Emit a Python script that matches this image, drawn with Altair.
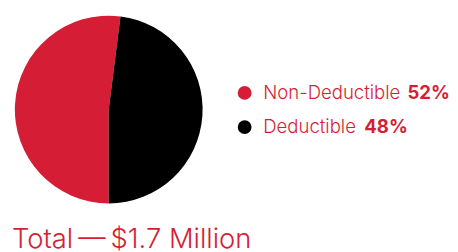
import altair as alt
import pandas as pd

categories = ["Non-Deductible", "Deductible"]
shares = [52, 48]
percent_labels = ["52%", "48%"]
colors = ["#D51E35", "#000000"]
title_text = "Total\u2009\u2014\u2009$1.7 Million"

RED = "#D51E35"
LABEL_SIZE = 19
FONT = "Inter"

# approximate advance widths (em) for Inter Light, used to place bold percentages after labels
W = {"N": .74, "o": .60, "n": .58, "-": .40, "D": .72, "e": .57, "d": .60, "u": .58,
     "c": .55, "t": .35, "i": .24, "b": .60, "l": .24, " ": .28}


def text_w(s, size):
    return sum(W.get(ch, .58) for ch in s) * size


df = pd.DataFrame({"category": categories, "share": shares, "pct": percent_labels})
df["order"] = range(len(df))
df["pct_x"] = [32 + text_w(c, LABEL_SIZE) + 8 for c in categories]

color_scale = alt.Scale(domain=categories, range=colors)

pie = alt.Chart(df).mark_arc(outerRadius=96, stroke=None).encode(
    theta=alt.Theta("share:Q", stack=True, scale=alt.Scale(range=[3.14159265, 3 * 3.14159265])),
    color=alt.Color("category:N", scale=color_scale, legend=None),
    order=alt.Order("order:Q"),
).properties(width=192, height=192)

yenc = alt.Y("category:N", sort=categories, axis=None,
             scale=alt.Scale(range=[79, 114], padding=0))
xscale = alt.Scale(domain=[0, 210], range=[0, 210])

base = alt.Chart(df).encode(y=yenc)
dots = base.mark_point(filled=True, shape="circle", size=200, opacity=1).encode(
    x=alt.value(13),
    color=alt.Color("category:N", scale=color_scale, legend=None),
)
labels = base.mark_text(align="left", baseline="middle", font=FONT, fontWeight=300,
                        fontSize=LABEL_SIZE, color=RED).encode(
    x=alt.value(32), text="category:N")
pcts = base.mark_text(align="left", baseline="middle", font=FONT, fontWeight="bold",
                      fontSize=LABEL_SIZE, color=RED).encode(
    x=alt.X("pct_x:Q", scale=xscale, axis=None), text="pct:N")

legend = alt.layer(dots, labels, pcts).properties(width=210, height=192)

chart = alt.hconcat(pie, legend, spacing=30).properties(
    padding={"left": 4, "top": 5, "right": 0, "bottom": 0},
    title=alt.TitleParams(title_text, orient="bottom", anchor="start", font=FONT,
                          fontWeight=300, fontSize=28, color=RED, offset=24, dx=-3),
).configure_view(stroke=None)

chart.save("out.html", embed_options={"renderer": "svg", "actions": False})
